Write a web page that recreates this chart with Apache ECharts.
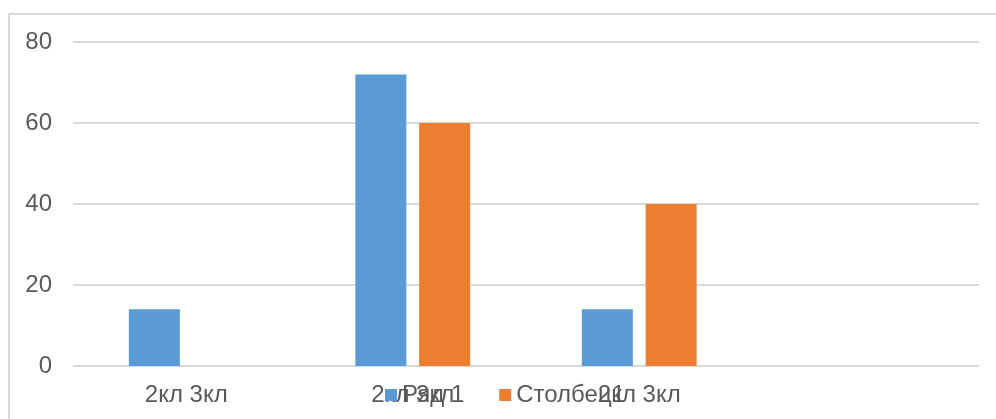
<!DOCTYPE html>
<html>
<head>
<meta charset="utf-8">
<script src="https://cdn.jsdelivr.net/npm/echarts@6/dist/echarts.min.js"></script>
<style>
  html, body { margin: 0; padding: 0; background: #fff; }
  #chart { width: 996px; height: 419px; }
</style>
</head>
<body>
<div id="chart"></div>
<script>
// Categories along the horizontal axis (the last slot is left empty)
const categories = ['2кл 3кл', '2кл 3кл', '2кл 3кл', ''];
// Series values
const seriesNames = ['Ряд 1', 'Столбец1'];
const row1 = [14, 72, 14, null];
const column1 = [null, 60, 40, null];
// Value axis ticks
const yTicks = [0, 20, 40, 60, 80];

const textColor = '#595959';
const gridColor = '#d9d9d9';
const font = '"Liberation Sans", Arial, sans-serif';
const fontSize = 24;

const chart = echarts.init(document.getElementById('chart'), null, { renderer: 'canvas' });
chart.setOption({
  animation: false,
  backgroundColor: '#fff',
  graphic: [{
    type: 'rect',
    shape: { x: 9, y: 14, width: 1100, height: 600 },
    style: { fill: 'none', stroke: gridColor, lineWidth: 2 },
    silent: true
  }],
  legend: {
    left: 385,
    top: 383,
    padding: 0,
    icon: 'rect',
    itemWidth: 12,
    itemHeight: 12,
    itemGap: 35,
    textStyle: { fontSize: fontSize, color: textColor, fontFamily: font },
    data: seriesNames
  },
  grid: { left: 73, right: 17, top: 42, bottom: 53, containLabel: false },
  xAxis: {
    type: 'category',
    data: categories,
    axisLine: { show: false },
    axisTick: { show: false },
    axisLabel: { fontSize: fontSize, color: textColor, fontFamily: font, margin: 17 }
  },
  yAxis: {
    type: 'value',
    min: yTicks[0],
    max: yTicks[yTicks.length - 1],
    interval: yTicks[1] - yTicks[0],
    axisLine: { show: false },
    axisTick: { show: false },
    axisLabel: { fontSize: fontSize, color: textColor, fontFamily: font, margin: 21 },
    splitLine: { lineStyle: { color: gridColor, width: 2 } }
  },
  series: [
    {
      name: seriesNames[0],
      type: 'bar',
      data: row1,
      barWidth: 51,
      barGap: '25%',
      itemStyle: { color: '#5b9bd5' }
    },
    {
      name: seriesNames[1],
      type: 'bar',
      data: column1,
      barWidth: 51,
      barGap: '25%',
      itemStyle: { color: '#ed7d31' }
    }
  ]
});
</script>
</body>
</html>
